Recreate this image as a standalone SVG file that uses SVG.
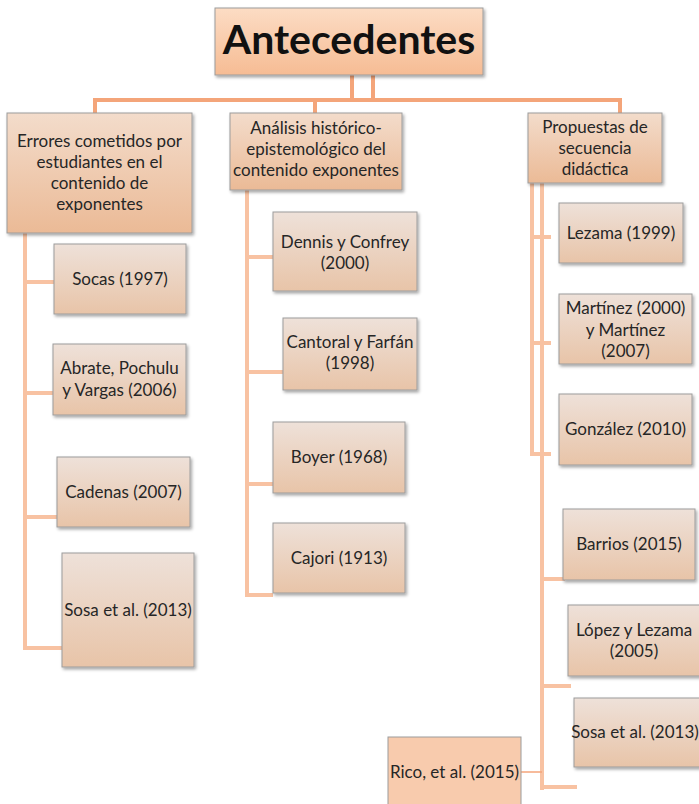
<svg xmlns="http://www.w3.org/2000/svg" width="699" height="804" viewBox="0 0 699 804">
<defs>
<linearGradient id="gRoot" x1="0" y1="0" x2="0" y2="1"><stop offset="0" stop-color="#FCDCC4"/><stop offset="1" stop-color="#F6BC94"/></linearGradient>
<linearGradient id="gCat" x1="0" y1="0" x2="0" y2="1"><stop offset="0" stop-color="#F3DCCB"/><stop offset="1" stop-color="#EBBA96"/></linearGradient>
<linearGradient id="gLeaf" x1="0" y1="0" x2="0" y2="1"><stop offset="0" stop-color="#EEE1D9"/><stop offset="1" stop-color="#E8C4A8"/></linearGradient>
<filter id="sh" x="-10%" y="-10%" width="130%" height="130%"><feDropShadow dx="1.5" dy="2" stdDeviation="1.5" flood-color="#000" flood-opacity="0.35"/></filter>
</defs>
<style>
.root{fill:url(#gRoot);stroke:#9C9C9C;stroke-width:1;filter:url(#sh)}
.cat{fill:url(#gCat);stroke:#9C9C9C;stroke-width:1;filter:url(#sh)}
.leaf{fill:url(#gLeaf);stroke:#9C9C9C;stroke-width:1;filter:url(#sh)}
.rico{fill:#F8CBAD;stroke:#9C9C9C;stroke-width:1}
text{font-family:Lato,"Open Sans","Liberation Sans",sans-serif;fill:#262626;text-anchor:middle;font-size:17px}
.t{font-size:41px;font-weight:bold;fill:#111}
.main{stroke:#F4A57A;fill:none;stroke-width:4}
.sub{stroke:#F8C2A2;fill:none;stroke-width:4}
</style>
<g id="connectors">
<line class="main" x1="352" y1="75" x2="352" y2="101" stroke-width="5"/>
<line class="main" x1="373" y1="75" x2="373" y2="101" stroke-width="3"/>
<polyline class="main" points="95,113 95,100 620,100 620,113"/>
<line class="main" x1="315" y1="100" x2="315" y2="113"/>
<line class="sub" x1="25" y1="233" x2="25" y2="650"/>
<polyline class="sub" points="25,282 54,282"/>
<polyline class="sub" points="25,393 53,393"/>
<polyline class="sub" points="25,517 57,517"/>
<polyline class="sub" points="23,648 62,648"/>
<line class="sub" x1="247" y1="190" x2="247" y2="597"/>
<polyline class="sub" points="247,257 273,257"/>
<polyline class="sub" points="247,372 283,372"/>
<polyline class="sub" points="247,484 273,484"/>
<polyline class="sub" points="245,595 273,595"/>
<line class="sub" x1="532" y1="183" x2="532" y2="456"/>
<line class="sub" x1="542" y1="183" x2="542" y2="790"/>
<polyline class="sub" points="530,237 551,237"/>
<polyline class="sub" points="530,343 551,343"/>
<polyline class="sub" points="530,454 551,454"/>
<polyline class="sub" points="542,579 565,579"/>
<polyline class="sub" points="542,686 571,686"/>
<polyline class="sub" points="540,787 577,787"/>
<line x1="521" y1="772" x2="542" y2="772" stroke="#F4A57A" stroke-width="1.5"/>
</g>
<g id="root"><rect class="root" x="215" y="8" width="268" height="67"/><text class="t" x="349" y="54">Antecedentes</text></g>
<g id="cat1"><rect class="cat" x="7" y="113" width="185" height="120"/><text x="99.5" y="147">Errores cometidos por</text><text x="99.5" y="168">estudiantes en el</text><text x="99.5" y="189">contenido de</text><text x="99.5" y="210">exponentes</text></g>
<g id="cat2"><rect class="cat" x="230" y="113" width="172" height="77"/><text x="316" y="134">Análisis histórico-</text><text x="316" y="155">epistemológico del</text><text x="316" y="176">contenido exponentes</text></g>
<g id="cat3"><rect class="cat" x="528" y="113" width="134" height="70"/><text x="595" y="133">Propuestas de</text><text x="595" y="154">secuencia</text><text x="595" y="175">didáctica</text></g>
<g id="socas"><rect class="leaf" x="54" y="244" width="132" height="70"/><text x="120" y="285">Socas (1997)</text></g>
<g id="abrate"><rect class="leaf" x="53" y="344" width="133" height="71"/><text x="119.5" y="374">Abrate, Pochulu</text><text x="119.5" y="396">y Vargas (2006)</text></g>
<g id="cadenas"><rect class="leaf" x="57" y="457" width="133" height="70"/><text x="123.5" y="498">Cadenas (2007)</text></g>
<g id="sosa1"><rect class="leaf" x="62" y="553" width="132" height="114"/><text x="128" y="616">Sosa et al. (2013)</text></g>
<g id="dennis"><rect class="leaf" x="273" y="212" width="144" height="79"/><text x="345" y="248">Dennis y Confrey</text><text x="345" y="269">(2000)</text></g>
<g id="cantoral"><rect class="leaf" x="283" y="318" width="134" height="72"/><text x="350" y="348">Cantoral y Farfán</text><text x="350" y="369">(1998)</text></g>
<g id="boyer"><rect class="leaf" x="273" y="422" width="132" height="71"/><text x="339" y="463">Boyer (1968)</text></g>
<g id="cajori"><rect class="leaf" x="273" y="523" width="132" height="70"/><text x="339" y="564">Cajori (1913)</text></g>
<g id="lezama"><rect class="leaf" x="559" y="203" width="124" height="60"/><text x="621" y="239">Lezama (1999)</text></g>
<g id="martinez"><rect class="leaf" x="559" y="294" width="133" height="70"/><text x="625.5" y="314">Martínez (2000)</text><text x="625.5" y="336">y Martínez</text><text x="625.5" y="357">(2007)</text></g>
<g id="gonzalez"><rect class="leaf" x="559" y="394" width="133" height="71"/><text x="625.5" y="435">González (2010)</text></g>
<g id="barrios"><rect class="leaf" x="563" y="509" width="132" height="71"/><text x="629" y="550">Barrios (2015)</text></g>
<g id="lopez"><rect class="leaf" x="568" y="605" width="133" height="71"/><text x="634" y="636">López y Lezama</text><text x="634" y="657">(2005)</text></g>
<g id="sosa2"><rect class="leaf" x="574" y="698" width="133" height="69"/><text x="635" y="738">Sosa et al. (2013)</text></g>
<g id="rico"><rect class="rico" x="388" y="737" width="133" height="80"/><text x="454.5" y="778">Rico, et al. (2015)</text></g>
</svg>
